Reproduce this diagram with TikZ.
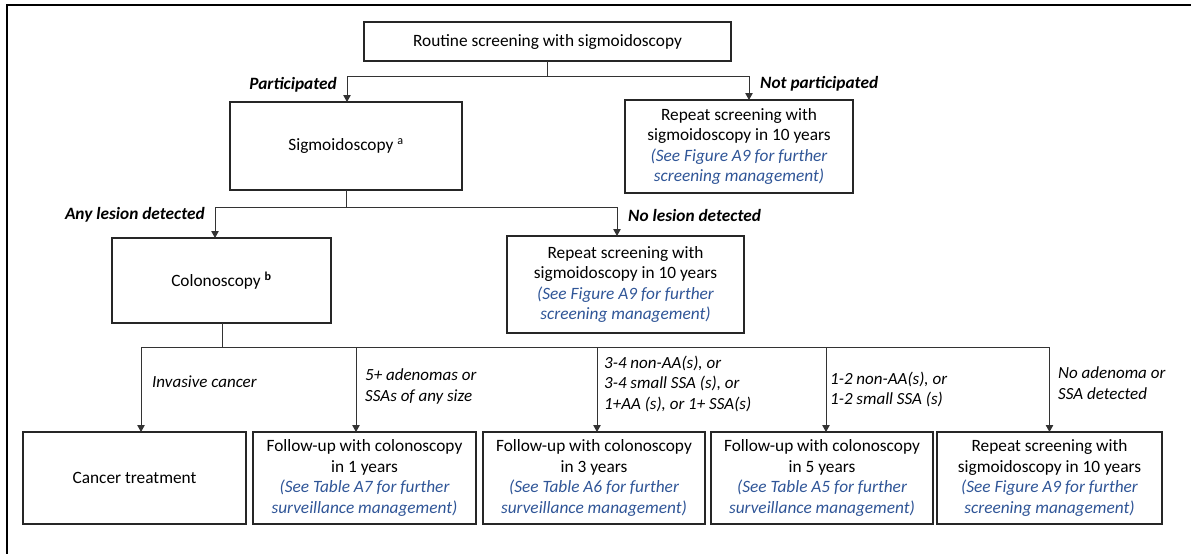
\documentclass[tikz,border=0pt]{standalone}
\usepackage{fontspec}
\setmainfont{Carlito}
\usetikzlibrary{arrows.meta}
\definecolor{linkblue}{RGB}{47,85,151}
\newcommand{\bluenote}[1]{\textcolor{linkblue}{\itshape #1}}
\begin{document}
\begin{tikzpicture}[x=1pt,y=-1pt,
  box/.style={draw=black!85, line width=1.2pt, rectangle, inner sep=0pt, outer sep=0pt,
    align=center, font=\fontsize{17.3}{20.5}\selectfont},
  conn/.style={draw=black!80, line width=0.9pt},
  arr/.style={conn, -{Triangle[length=7pt,width=7.5pt]}},
  lab/.style={inner sep=0pt, align=left, font=\fontsize{17}{20.5}\selectfont\itshape},
  blab/.style={inner sep=0pt, align=left, font=\fontsize{17.3}{20.5}\selectfont\bfseries\itshape}
]
\useasboundingbox (0,0) rectangle (1191,554);

% outer frame (left and top edges)
\draw[line width=2.6pt, line join=miter] (7,554) -- (7,5) -- (1191,5);

% boxes
\node[box, minimum width=367pt, minimum height=39pt] (top) at (547.5,41.5)
  {Routine screening with sigmoidoscopy};
\node[box, minimum width=232pt, minimum height=88pt] (sig) at (346,146)
  {Sigmoidoscopy \textsuperscript{a}};
\node[box, minimum width=228pt, minimum height=93pt] (np) at (739,146.5)
  {Repeat screening with\\sigmoidoscopy in 10 years\\
   \bluenote{(See Figure A9 for further}\\\bluenote{screening management)}};
\node[box, minimum width=219pt, minimum height=85pt] (col) at (221.5,280.5)
  {Colonoscopy \textsuperscript{\bfseries b}};
\node[box, minimum width=237pt, minimum height=97pt] (nl) at (625.5,284.5)
  {Repeat screening with\\sigmoidoscopy in 10 years\\
   \bluenote{(See Figure A9 for further}\\\bluenote{screening management)}};

\node[box, minimum width=223pt, minimum height=92pt] (cancer) at (134.5,478)
  {Cancer treatment};
\node[box, minimum width=223pt, minimum height=92pt] (y1) at (364.5,478)
  {Follow-up with colonoscopy\\in 1 years\\
   \bluenote{(See Table A7 for further}\\\bluenote{surveillance management)}};
\node[box, minimum width=222pt, minimum height=92pt] (y3) at (594,478)
  {Follow-up with colonoscopy\\in 3 years\\
   \bluenote{(See Table A6 for further}\\\bluenote{surveillance management)}};
\node[box, minimum width=222pt, minimum height=92pt] (y5) at (822,478)
  {Follow-up with colonoscopy\\in 5 years\\
   \bluenote{(See Table A5 for further}\\\bluenote{surveillance management)}};
\node[box, minimum width=225pt, minimum height=92pt] (y10) at (1049.5,478)
  {Repeat screening with\\sigmoidoscopy in 10 years\\
   \bluenote{(See Figure A9 for further}\\\bluenote{screening management)}};

% junction points
\coordinate (j1) at (547,76);
\coordinate (j2) at (346,207);
\coordinate (j3) at (222,347);

% first split
\draw[conn] (top.south -| j1) -- (j1);
\draw[arr] (j1) -| ([xshift=1pt]sig.north);
\draw[arr] (j1) -| ([xshift=10pt]np.north);

% second split
\draw[conn] (sig.south) -- (j2);
\draw[arr] (j2) -| ([xshift=-6.5pt]col.north);
\draw[arr] (j2) -| ([xshift=-8.5pt]nl.north);

% colonoscopy outcomes
\draw[conn] (col.south -| j3) -- (j3);
\draw[arr] (j3) -| ([xshift=6.5pt]cancer.north);
\draw[arr] (j3) -| ([xshift=-8.5pt]y1.north);
\draw[arr] (j3) -| ([xshift=3pt]y3.north);
\draw[arr] (j3) -| ([xshift=4pt]y5.north);
\draw[arr] (j3) -| (y10.north);

% branch labels
\node[blab, anchor=east] (lpart) at (337,85) {Participated};
\node[blab, anchor=west] (lnot) at (760,84) {Not participated};
\node[blab, anchor=east] (lany) at (205,215) {Any lesion detected};
\node[blab, anchor=west] (lno) at (628,215) {No lesion detected};

\node[lab, anchor=west] (linv) at (152,382) {Invasive cancer};
\node[lab, anchor=west] (l5) at (365,386.5) {5+ adenomas or\\SSAs of any size};
\node[lab, anchor=west] (l34) at (604,383.5) {3-4 non-AA(s), or\\3-4 small SSA (s), or\\1+AA (s), or 1+ SSA(s)};
\node[lab, anchor=west] (l12) at (830,389.5) {1-2 non-AA(s), or\\1-2 small SSA (s)};
\node[lab, anchor=west] (lnone) at (1058,383) {No adenoma or\\SSA detected};
\end{tikzpicture}
\end{document}
